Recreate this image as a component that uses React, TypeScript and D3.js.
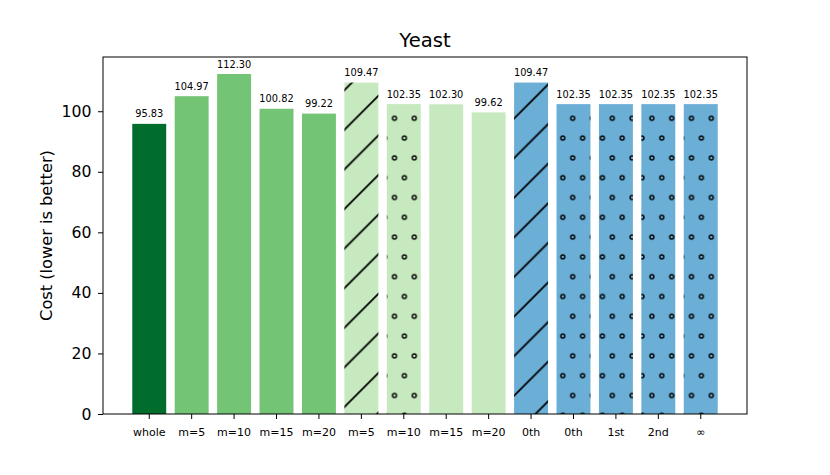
import React, { useEffect, useRef } from "react";
import * as d3 from "d3";

const labels = ["whole", "m=5", "m=10", "m=15", "m=20", "m=5", "m=10", "m=15", "m=20", "0th", "0th", "1st", "2nd", "∞"];
const costs = [95.83, 104.97, 112.3, 100.82, 99.22, 109.47, 102.35, 102.3, 99.62, 109.47, 102.35, 102.35, 102.35, 102.35];
const groups = ["dark", "mid", "mid", "mid", "mid", "light", "light", "light", "light", "blue", "blue", "blue", "blue", "blue"];
const hatches = ["", "", "", "", "", "/", "o", "", "", "/", "o", "o", "o", "o"];
const yTicks = [0, 20, 40, 60, 80, 100];

const groupColor: Record<string, string> = {
  dark: "#006d2c",
  mid: "#74c476",
  light: "#c7e9c0",
  blue: "#6baed6",
};

const App: React.FC = () => {
  const svgRef = useRef<SVGSVGElement | null>(null);

  useEffect(() => {
    if (!svgRef.current) return;
    document.body.style.margin = "0";

    const width = 830;
    const height = 475;
    const margin = { top: 57, right: 83, bottom: 61, left: 103 };
    const w = width - margin.left - margin.right;
    const h = height - margin.top - margin.bottom;
    const font = "DejaVu Sans, sans-serif";

    const svg = d3.select(svgRef.current).attr("width", width).attr("height", height);
    svg.selectAll("*").remove();

    const defs = svg.append("defs");
    const s = 39.6;

    // diagonal hatch, anchored to the page like matplotlib's
    const diag = defs
      .append("pattern")
      .attr("id", "hatch-diag")
      .attr("patternUnits", "userSpaceOnUse")
      .attr("x", -1)
      .attr("y", 0)
      .attr("width", s)
      .attr("height", s);
    diag
      .append("path")
      .attr("d", `M0,${s} L${s},0 M-3,3 L3,-3 M${s - 3},${s + 3} L${s + 3},${s - 3}`)
      .attr("stroke", "#000")
      .attr("stroke-width", 1.8)
      .attr("fill", "none");

    // circle hatch
    const circ = defs
      .append("pattern")
      .attr("id", "hatch-circ")
      .attr("patternUnits", "userSpaceOnUse")
      .attr("x", -1.5)
      .attr("y", -0.5)
      .attr("width", s / 2)
      .attr("height", s);
    const pts = [
      [0, 0],
      [s / 2, 0],
      [0, s],
      [s / 2, s],
      [s / 4, s / 2],
    ];
    pts.forEach(([cx, cy]) => {
      circ
        .append("circle")
        .attr("cx", cx)
        .attr("cy", cy)
        .attr("r", 2)
        .attr("fill", "none")
        .attr("stroke", "#000")
        .attr("stroke-width", 1.4);
    });

    const g = svg.append("g").attr("transform", `translate(${margin.left},${margin.top})`);

    const idx = costs.map((_, i) => i);
    const x = d3
      .scaleBand<number>()
      .domain(idx)
      .range([0, w])
      .paddingInner(0.2)
      .paddingOuter(0.69);
    const y = d3.scaleLinear().domain([0, 112.3 * 1.05]).range([h, 0]);

    // bars
    g.selectAll("rect.bar")
      .data(idx)
      .enter()
      .append("rect")
      .attr("class", "bar")
      .attr("x", (i) => x(i) || 0)
      .attr("y", (i) => y(costs[i]))
      .attr("width", x.bandwidth())
      .attr("height", (i) => h - y(costs[i]))
      .attr("fill", (i) => groupColor[groups[i]]);

    // hatch overlays (pattern is in page coords, so draw them outside g)
    svg
      .append("g")
      .selectAll("rect.hatch")
      .data(idx.filter((i) => hatches[i] !== ""))
      .enter()
      .append("rect")
      .attr("class", "hatch")
      .attr("x", (i) => margin.left + (x(i) || 0))
      .attr("y", (i) => margin.top + y(costs[i]))
      .attr("width", x.bandwidth())
      .attr("height", (i) => h - y(costs[i]))
      .attr("fill", (i) => (hatches[i] === "/" ? "url(#hatch-diag)" : "url(#hatch-circ)"));

    // value labels
    g.selectAll("text.val")
      .data(idx)
      .enter()
      .append("text")
      .attr("class", "val")
      .attr("x", (i) => (x(i) || 0) + x.bandwidth() / 2)
      .attr("y", (i) => y(costs[i]) - 6.5)
      .attr("text-anchor", "middle")
      .attr("font-family", font)
      .attr("font-size", 9.8)
      .attr("fill", "#000")
      .text((i) => costs[i].toFixed(2));

    // frame
    g.append("rect")
      .attr("width", w)
      .attr("height", h)
      .attr("fill", "none")
      .attr("stroke", "#000")
      .attr("stroke-width", 1);

    // axes
    const xAxis = g
      .append("g")
      .attr("transform", `translate(0,${h})`)
      .call(
        d3
          .axisBottom(x)
          .tickSize(5)
          .tickPadding(9)
          .tickFormat((i) => labels[i as number])
      );
    xAxis.select(".domain").remove();
    xAxis.selectAll("text").attr("font-family", font).attr("font-size", 11).attr("fill", "#000");

    const yAxis = g
      .append("g")
      .call(d3.axisLeft(y).tickValues(yTicks).tickSize(5).tickPadding(6.5));
    yAxis.select(".domain").remove();
    yAxis.selectAll("text").attr("font-family", font).attr("font-size", 15.7).attr("fill", "#000");

    // y label
    svg
      .append("text")
      .attr("transform", `translate(52,${margin.top + h / 2}) rotate(-90)`)
      .attr("text-anchor", "middle")
      .attr("font-family", font)
      .attr("font-size", 16.2)
      .attr("fill", "#000")
      .text("Cost (lower is better)");

    // title
    svg
      .append("text")
      .attr("x", margin.left + w / 2)
      .attr("y", 46.5)
      .attr("text-anchor", "middle")
      .attr("font-family", font)
      .attr("font-size", 19.6)
      .attr("fill", "#000")
      .text("Yeast");
  }, []);

  return <svg ref={svgRef} style={{ display: "block" }}></svg>;
};

export default App;
